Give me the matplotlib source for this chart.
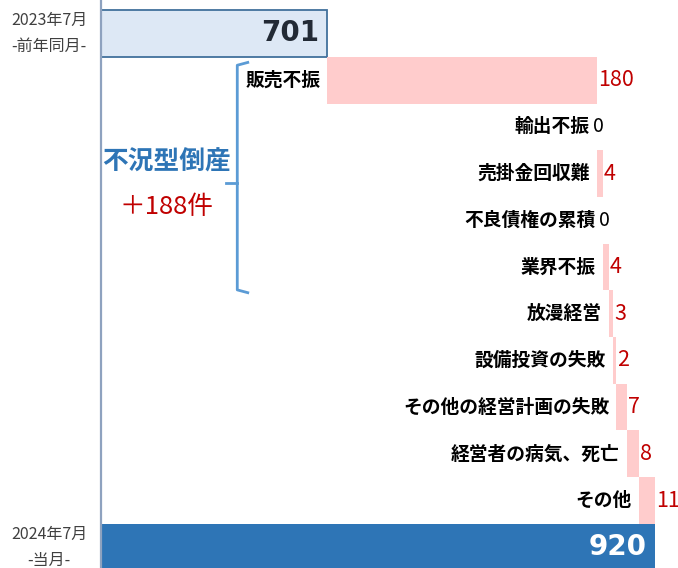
import numpy as np
import matplotlib
matplotlib.use("Agg")
import matplotlib.pyplot as plt

plt.rcParams['font.family'] = ['Noto Sans CJK JP', 'DejaVu Sans']

# data
prev_label = ["2023年7月", "-前年同月-"]
prev_value = 701
curr_label = ["2024年7月", "-当月-"]
curr_value = 920
categories = ["販売不振", "輸出不振", "売掛金回収難", "不良債権の累積", "業界不振",
              "放漫経営", "設備投資の失敗", "その他の経営計画の失敗",
              "経営者の病気、死亡", "その他"]
increments = [180, 0, 4, 0, 4, 3, 2, 7, 8, 11]
group_n = 5  # first five causes = 不況型倒産
group_title = "不況型倒産"

W, H = 678, 568
fig = plt.figure(figsize=(W / 100, H / 100), dpi=100)
ax = fig.add_axes([101 / W, 0, (W - 101) / W, 1])

x0, x1 = 550, 935.3
ax.set_xlim(x0, x1)
ax.set_ylim(11.445, -0.717)

pink = "#ffcccc"
red = "#c00000"
blue = "#2e75b6"

# start / end bars
ax.barh(0, prev_value - x0, left=x0, height=1.0, color="#dde8f5",
        edgecolor="#41719c", linewidth=1.3, zorder=2)
ax.barh(len(categories) + 1, curr_value - x0, left=x0, height=1.0,
        color=blue, edgecolor="none", zorder=2)

lefts = prev_value + np.concatenate([[0], np.cumsum(increments)[:-1]])
rows = np.arange(1, len(categories) + 1)
ax.barh(rows, increments, left=lefts, height=1.0, color=pink,
        edgecolor="none", zorder=2)

for r, cat, v, l in zip(rows, categories, increments, lefts):
    ax.annotate(cat, (l, r), xytext=(-5, 0), textcoords="offset points",
                ha="right", va="center", fontsize=13.5, fontweight="bold",
                color="black")
    if v == 0:
        ax.annotate(str(v), (l + v, r), xytext=(-3, 0), textcoords="offset points",
                    ha="left", va="center", fontsize=14, color="black")
    else:
        ax.annotate(str(v), (l + v, r), xytext=(0.8, 0), textcoords="offset points",
                    ha="left", va="center", fontsize=15.5, color=red)

ax.annotate(str(prev_value), (prev_value, 0), xytext=(-6, 0),
            textcoords="offset points", ha="right", va="center",
            fontsize=20, fontweight="bold", color="#222a35",
            family=["DejaVu Sans"])
ax.annotate(str(curr_value), (curr_value, len(categories) + 1), xytext=(-6, 0),
            textcoords="offset points", ha="right", va="center",
            fontsize=20, fontweight="bold", color="white",
            family=["DejaVu Sans"])

# left period labels
for row, lab in ((0, prev_label), (len(categories) + 1, curr_label)):
    ax.text(-0.09, row - 0.27, lab[0], transform=ax.get_yaxis_transform(),
            ha="center", va="center", fontsize=11.5, color="#404040")
    ax.text(-0.09, row + 0.28, lab[1], transform=ax.get_yaxis_transform(),
            ha="center", va="center", fontsize=11.5, color="#404040")

# bracket for the recession-type group
bx, hook, nub = 641, 648, 633.5
ytop, ybot = 0.62, group_n + 0.55
ymid = (1 + group_n) / 2 + 0.2
ax.plot([hook, bx, bx, hook], [ytop, ytop + 0.06, ybot - 0.06, ybot],
        color="#5b9bd5", lw=2, clip_on=False, solid_joinstyle="round", zorder=3)
ax.plot([bx, nub], [ymid, ymid], color="#5b9bd5", lw=2, zorder=3)

group_sum = sum(increments[:group_n])
ax.text(594, ymid - 0.45, group_title, ha="center", va="center",
        fontsize=18.5, fontweight="bold", color=blue)
ax.text(594, ymid + 0.52, f"＋{group_sum}件", ha="center", va="center",
        fontsize=18.5, color=red)

for s in ("top", "right", "bottom"):
    ax.spines[s].set_visible(False)
ax.spines["left"].set_color("#8ea2bf")
ax.spines["left"].set_linewidth(1.6)
ax.set_xticks([])
ax.set_yticks([])

fig.savefig("out.png", dpi=100)
